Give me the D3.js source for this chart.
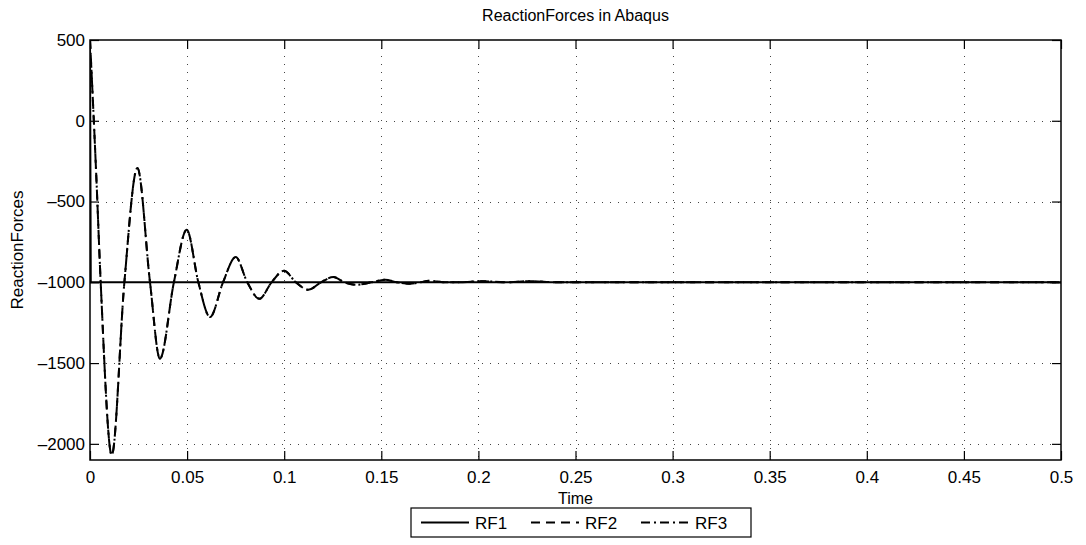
<!DOCTYPE html>
<html>
<head>
<meta charset="utf-8">
<script src="https://cdn.jsdelivr.net/npm/d3@7"></script>
<style>
  html, body { margin: 0; padding: 0; background: #fff; }
  svg { display: block; font-family: "Liberation Sans", Arial, Helvetica, sans-serif; }
</style>
</head>
<body>
<svg id="chart" width="1086" height="545"></svg>
<script>
// ---- data ----
const xTicks = [0, 0.05, 0.1, 0.15, 0.2, 0.25, 0.3, 0.35, 0.4, 0.45, 0.5];
const yTicks = [500, 0, -500, -1000, -1500, -2000];

const rf1Time = [0, 0.0004, 0.5];
const rf1Value = [500, -1000, -1000];

const rfTime = [0, 0.0031, 0.0055, 0.0112, 0.0177, 0.0244, 0.0309, 0.036, 0.0432, 0.0498,
  0.0558, 0.0618, 0.0685, 0.075, 0.081, 0.0872, 0.0935, 0.0999, 0.106, 0.1124,
  0.119, 0.1253, 0.131, 0.1373, 0.145, 0.152, 0.158, 0.165, 0.170, 0.175,
  0.183, 0.19, 0.202, 0.214, 0.227, 0.24, 0.5];
const rf2Value = [500, -303, -1000, -2070, -1000, -292, -1000, -1473, -1000, -675,
  -1000, -1215, -1000, -844, -1000, -1102, -1000, -928, -1000, -1046,
  -1000, -967, -1000, -1015, -1000, -984, -1000, -1009, -1000, -990,
  -1000, -1000, -993, -1000, -993, -1000, -1000];
const rf3Value = rf2Value.slice();

const seriesNames = ["RF1", "RF2", "RF3"];

// ---- layout ----
const svg = d3.select("#chart");
const L = 90, R = 1061, T = 40, B = 460;
const x = d3.scaleLinear().domain([0, 0.5]).range([L, R]);
const y = d3.scaleLinear().domain([-2100, 500]).range([B, T]);
const fs = 17;

// grid
const grid = svg.append("g").attr("stroke", "#444").attr("stroke-width", 1)
  .attr("stroke-dasharray", "1,7");
grid.selectAll(".gx").data(xTicks.slice(1, -1)).join("line")
  .attr("x1", d => Math.round(x(d)) + 0.5).attr("x2", d => Math.round(x(d)) + 0.5)
  .attr("y1", T).attr("y2", B);
grid.selectAll(".gy").data(yTicks.slice(1)).join("line")
  .attr("y1", d => Math.round(y(d)) + 0.5).attr("y2", d => Math.round(y(d)) + 0.5)
  .attr("x1", L).attr("x2", R);

// clip
svg.append("clipPath").attr("id", "clip").append("rect")
  .attr("x", L).attr("y", T).attr("width", R - L).attr("height", B - T);

const line = d3.line().x(d => x(d[0])).y(d => y(d[1])).curve(d3.curveMonotoneX);
const plot = svg.append("g").attr("clip-path", "url(#clip)").attr("fill", "none")
  .attr("stroke", "#000").attr("stroke-width", 2);

plot.append("path").datum(rf1Time.map((t, i) => [t, rf1Value[i]]))
  .attr("d", d3.line().x(d => x(d[0])).y(d => y(d[1])));
plot.append("path").datum(rfTime.map((t, i) => [t, rf2Value[i]]))
  .attr("d", line).attr("stroke-dasharray", "9,6");
plot.append("path").datum(rfTime.map((t, i) => [t, rf3Value[i]]))
  .attr("d", line).attr("stroke-dasharray", "9,4,2,4");

// axes with inward ticks
const tickLen = 9;
const xb = d3.axisBottom(x).tickValues(xTicks).tickSize(-tickLen).tickPadding(11)
  .tickFormat(d => d3.format("")(d));
const xt = d3.axisTop(x).tickValues(xTicks).tickSize(-tickLen).tickFormat("");
const yl = d3.axisLeft(y).tickValues(yTicks).tickSize(-tickLen).tickPadding(5)
  .tickFormat(d => (d < 0 ? "\u2013" + Math.abs(d) : String(d)));
const yr = d3.axisRight(y).tickValues(yTicks).tickSize(-tickLen).tickFormat("");

function style(g) {
  g.select(".domain").remove();
  g.selectAll("line").attr("stroke", "#000").attr("stroke-width", 1.2);
  g.selectAll("text").attr("font-size", fs).attr("fill", "#000")
    .attr("font-family", "Liberation Sans, Arial, sans-serif");
}
svg.append("g").attr("transform", `translate(0,${B})`).call(xb).call(style);
svg.append("g").attr("transform", `translate(0,${T})`).call(xt).call(style);
svg.append("g").attr("transform", `translate(${L},0)`).call(yl).call(style);
svg.append("g").attr("transform", `translate(${R},0)`).call(yr).call(style);

// box
svg.append("rect").attr("x", L).attr("y", T).attr("width", R - L).attr("height", B - T)
  .attr("fill", "none").attr("stroke", "#000").attr("stroke-width", 1.5);

// title & labels
svg.append("text").attr("x", (L + R) / 2).attr("y", 21).attr("text-anchor", "middle")
  .attr("font-size", 16).text("ReactionForces in Abaqus");
svg.append("text").attr("x", (L + R) / 2).attr("y", 504).attr("text-anchor", "middle")
  .attr("font-size", 16).text("Time");
svg.append("text").attr("transform", `translate(23,${(T + B) / 2}) rotate(-90)`)
  .attr("text-anchor", "middle").attr("font-size", fs).text("ReactionForces");

// legend
const lg = svg.append("g");
const lx = 411, ly = 508, lw = 340, lh = 29;
lg.append("rect").attr("x", lx).attr("y", ly).attr("width", lw).attr("height", lh)
  .attr("fill", "#fff").attr("stroke", "#000").attr("stroke-width", 1.2);
const dashes = [null, "9,6", "9,4,2,4"];
const entryW = 110;
seriesNames.forEach((name, i) => {
  const ex = lx + 10 + i * entryW;
  lg.append("line").attr("x1", ex).attr("x2", ex + 48).attr("y1", ly + lh / 2).attr("y2", ly + lh / 2)
    .attr("stroke", "#000").attr("stroke-width", 2)
    .attr("stroke-dasharray", dashes[i]);
  lg.append("text").attr("x", ex + 54).attr("y", ly + lh / 2 + 6).attr("font-size", fs)
    .text(name);
});
</script>
</body>
</html>
